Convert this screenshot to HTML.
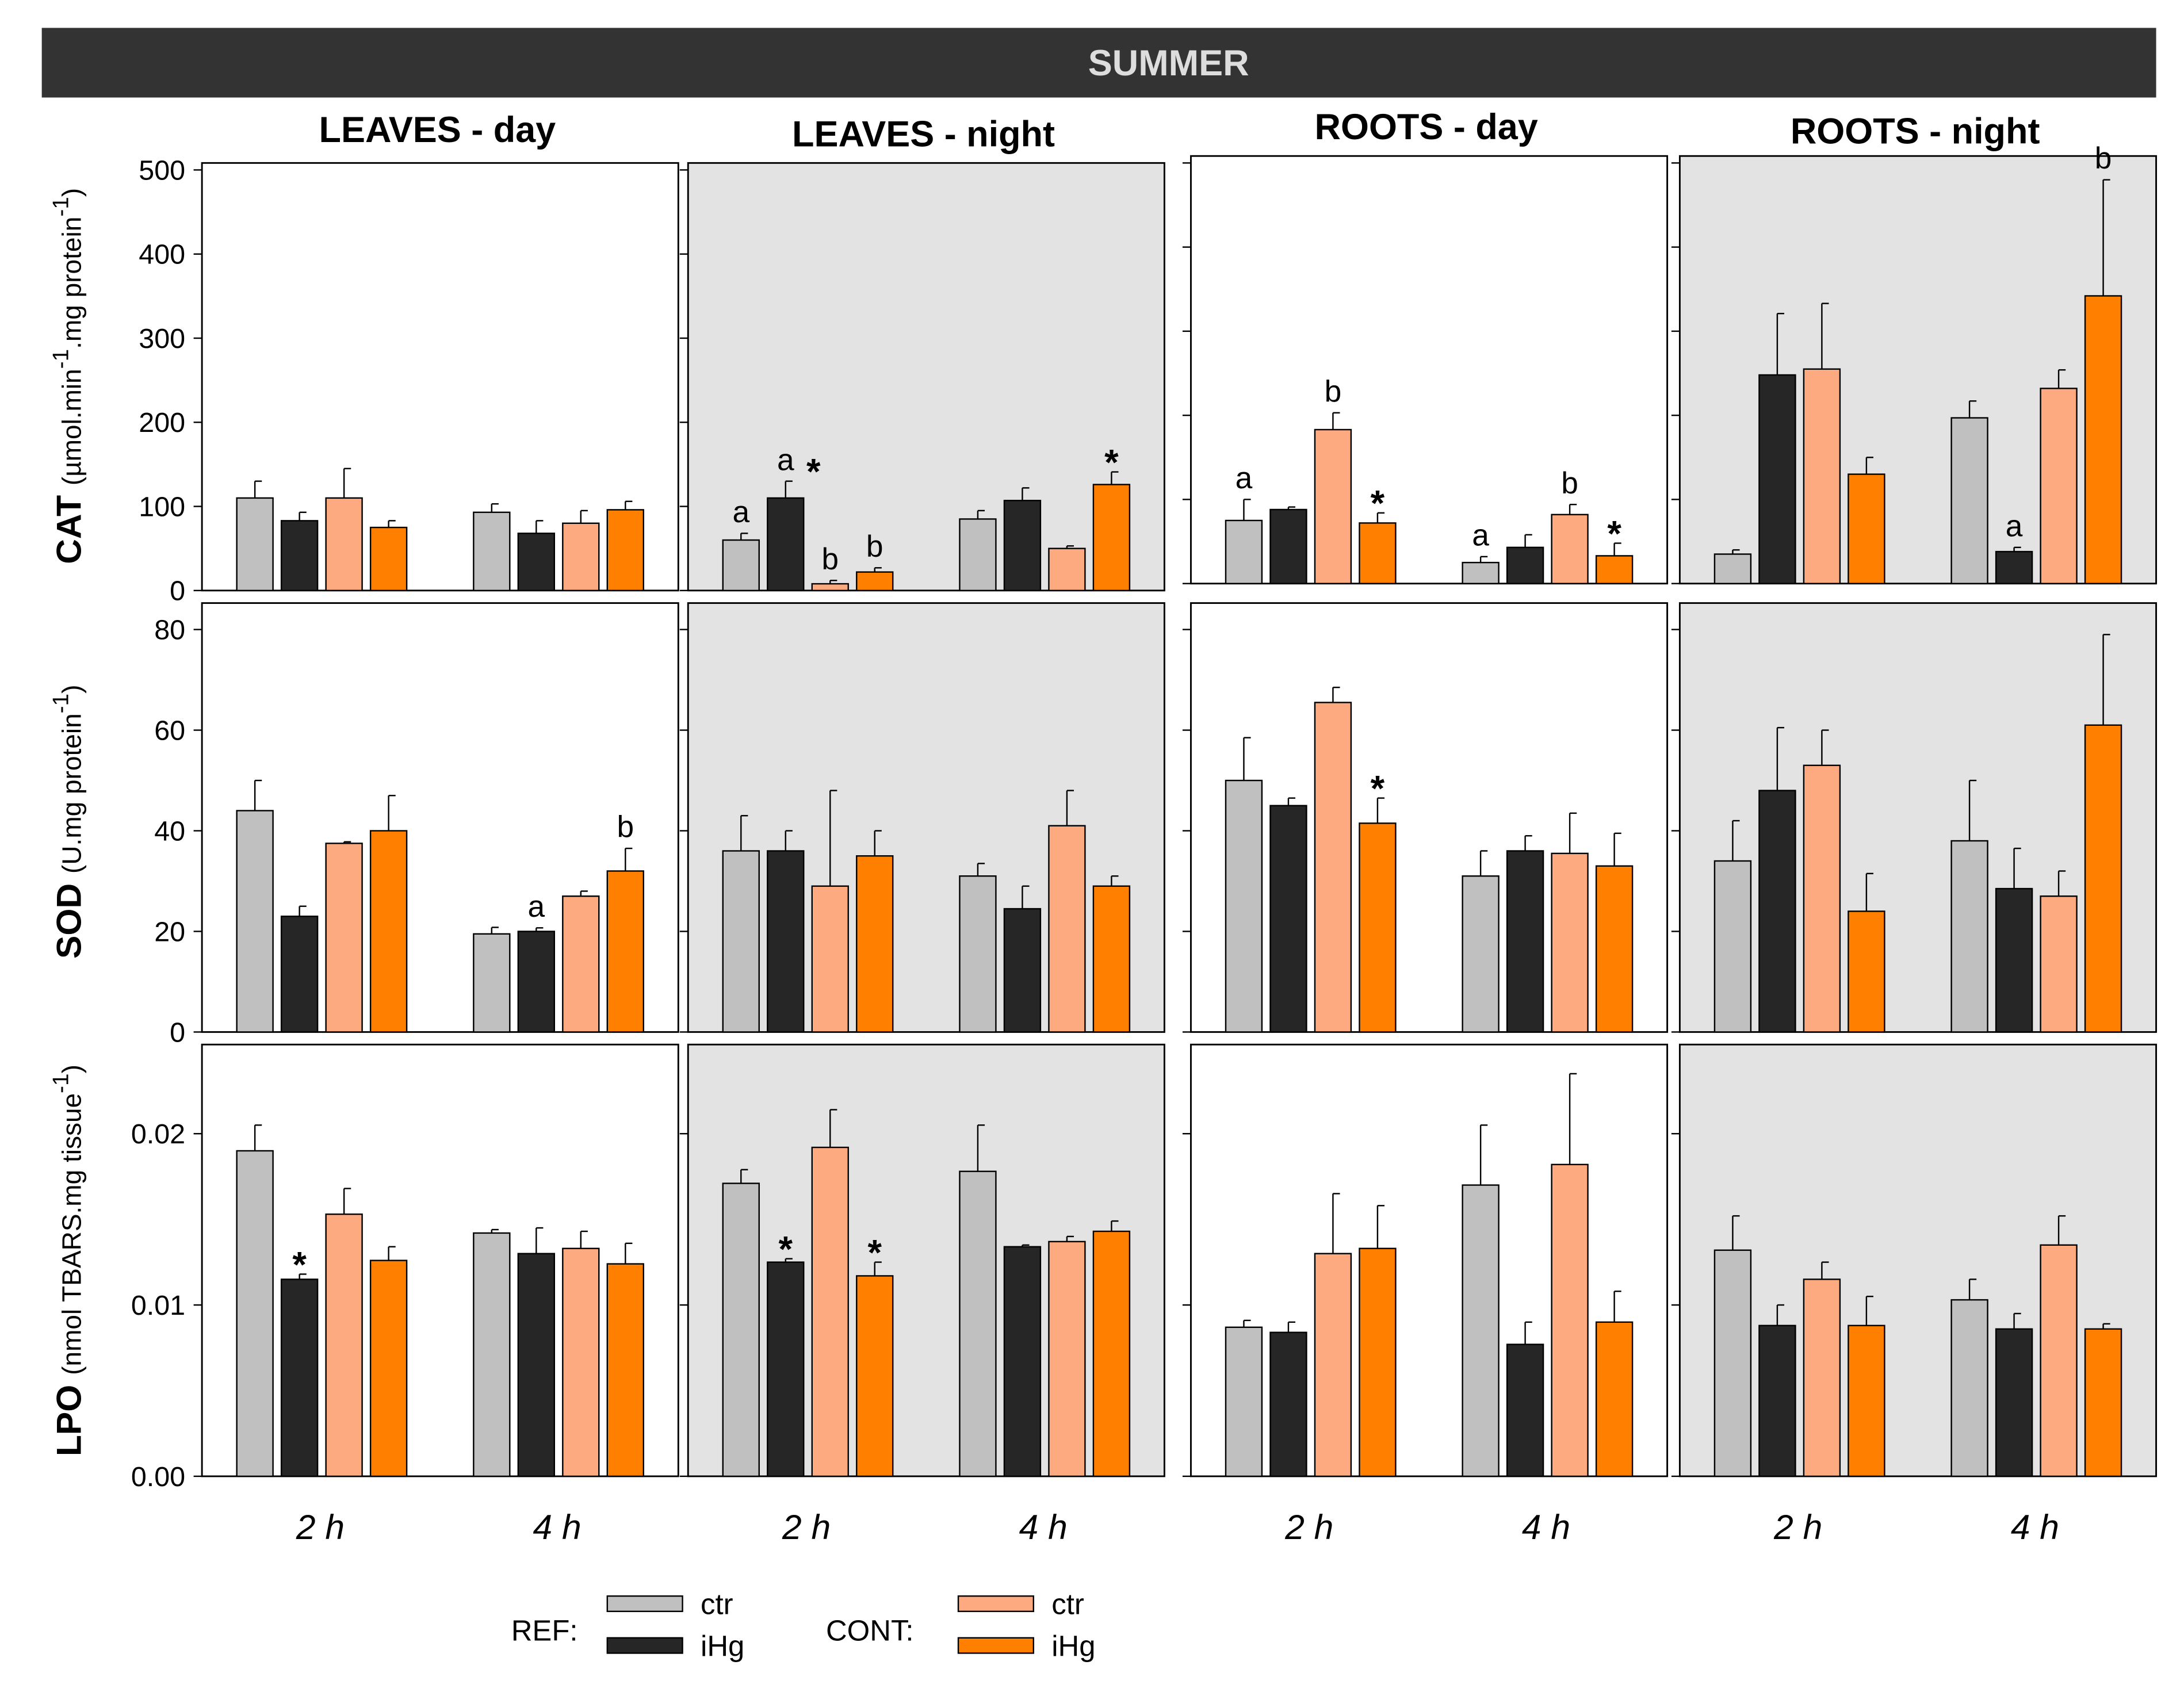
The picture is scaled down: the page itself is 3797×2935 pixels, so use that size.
<!DOCTYPE html>
<html><head><meta charset="utf-8">
<style>
html,body{margin:0;padding:0;background:#fff;}
svg{display:block;font-family:"Liberation Sans",Arial,sans-serif;}
</style></head>
<body>
<svg id="chart" width="3797" height="2935" viewBox="0 0 1568 1212" xmlns="http://www.w3.org/2000/svg">
<rect x="0" y="0" width="1568" height="1212" fill="#fff"/>
<rect x="30" y="20" width="1518" height="50" fill="#333"/>
<text x="839" y="54" text-anchor="middle" font-size="26" font-weight="bold" fill="#ddd">SUMMER</text>
<g id="plots"></g>
<g>
<text x="367" y="1178" font-size="21">REF:</text>
<rect x="436" y="1146" width="54" height="11" fill="#c0c0c0" stroke="#000" stroke-width="1"/>
<rect x="436" y="1176" width="54" height="11" fill="#262626" stroke="#000" stroke-width="1"/>
<text x="503" y="1159" font-size="21">ctr</text>
<text x="503" y="1189" font-size="21">iHg</text>
<text x="593" y="1178" font-size="21">CONT:</text>
<rect x="688" y="1146" width="54" height="11" fill="#fdaa80" stroke="#000" stroke-width="1"/>
<rect x="688" y="1176" width="54" height="11" fill="#ff8000" stroke="#000" stroke-width="1"/>
<text x="755" y="1159" font-size="21">ctr</text>
<text x="755" y="1189" font-size="21">iHg</text>
</g>
</svg>
<script>
// ---- data ----
const panelNames = ["LEAVES - day","LEAVES - night","ROOTS - day","ROOTS - night"];
const groups = ["2 h","4 h"];
const catTicks = [0,100,200,300,400,500];
const sodTicks = [0,20,40,60,80];
const lpoTicks = [0,0.01,0.02];
const lpoTickLabels = ["0.00","0.01","0.02"];
// values per panel: [group][bar] order ctr-REF, iHg-REF, ctr-CONT, iHg-CONT
const catVals = [
 [[110,83,110,75],[93,68,80,96]],
 [[60,110,8,22],[85,107,50,126]],
 [[75,88,183,72],[25,43,82,33]],
 [[35,248,255,130],[197,38,232,342]]];
const catErr = [
 [[20,10,35,8],[10,15,15,10]],
 [[8,20,4,5],[10,15,3,15]],
 [[25,3,20,12],[7,15,12,15]],
 [[5,73,78,20],[20,5,22,138]]];
const sodVals = [
 [[44,23,37.5,40],[19.5,20,27,32]],
 [[36,36,29,35],[31,24.5,41,29]],
 [[50,45,65.5,41.5],[31,36,35.5,33]],
 [[34,48,53,24],[38,28.5,27,61]]];
const sodErr = [
 [[6,2,0.3,7],[1.3,0.7,1,4.5]],
 [[7,4,19,5],[2.5,4.5,7,2]],
 [[8.5,1.5,3,5],[5,3,8,6.5]],
 [[8,12.5,7,7.5],[12,8,5,18]]];
const lpoVals = [
 [[0.0190,0.0115,0.0153,0.0126],[0.0142,0.0130,0.0133,0.0124]],
 [[0.0171,0.0125,0.0192,0.0117],[0.0178,0.0134,0.0137,0.0143]],
 [[0.0087,0.0084,0.0130,0.0133],[0.0170,0.0077,0.0182,0.0090]],
 [[0.0132,0.0088,0.0115,0.0088],[0.0103,0.0086,0.0135,0.0086]]];
const lpoErr = [
 [[0.0015,0.0003,0.0015,0.0008],[0.0002,0.0015,0.0010,0.0012]],
 [[0.0008,0.0002,0.0022,0.0008],[0.0027,0.0001,0.0003,0.0006]],
 [[0.0004,0.0006,0.0035,0.0025],[0.0035,0.0013,0.0053,0.0018]],
 [[0.0020,0.0012,0.0010,0.0017],[0.0012,0.0009,0.0017,0.0003]]];
// annotations: [panel, group, bar, label]
const catNotes = [[1,0,0,"a"],[1,0,1,"a"],[1,0,1,"*"],[1,0,2,"b"],[1,0,3,"b"],[1,1,3,"*"],
 [2,0,0,"a"],[2,0,2,"b"],[2,0,3,"*"],[2,1,0,"a"],[2,1,2,"b"],[2,1,3,"*"],[3,1,1,"a"],[3,1,3,"b"]];
const sodNotes = [[0,1,1,"a"],[0,1,3,"b"],[2,0,3,"*"]];
const lpoNotes = [[0,0,1,"*"],[1,0,1,"*"],[1,0,3,"*"]];

const colors = ["#c0c0c0","#262626","#fdaa80","#ff8000"];
const barNames = ["ref-ctr","ref-ihg","cont-ctr","cont-ihg"];
const colX = [145,494,855,1206];
const PW = 342;
const rows = [
 {key:"cat",vals:catVals,err:catErr,notes:catNotes,ticks:catTicks,labels:catTicks.map(String),max:500,top:[117,117,112,112],bot:[424,424,419,419],span:302},
 {key:"sod",vals:sodVals,err:sodErr,notes:sodNotes,ticks:sodTicks,labels:sodTicks.map(String),max:80,top:[433,433,433,433],bot:[741,741,741,741],span:289},
 {key:"lpo",vals:lpoVals,err:lpoErr,notes:lpoNotes,ticks:lpoTicks,labels:lpoTickLabels,max:0.02,top:[750,750,750,750],bot:[1060,1060,1060,1060],span:246}
];
const NS="http://www.w3.org/2000/svg";
const root=document.getElementById("plots");
function mk(tag,attrs,parent){const e=document.createElementNS(NS,tag);for(const k in attrs)e.setAttribute(k,attrs[k]);(parent||root).appendChild(e);return e;}
function barX(p,g,b){return colX[p]+25+g*170+b*32;}
const BW=26;

rows.forEach((r,ri)=>{
 for(let p=0;p<4;p++){
  const yS=v=>r.bot[p]-v/r.max*r.span;
  const g=mk("g",{});
  
  
  const bg=mk("rect",{x:colX[p],y:r.top[p],width:PW,height:r.bot[p]-r.top[p],fill:(p%2)?"#e3e3e3":"#fff",stroke:"#000","stroke-width":1.2},g);
  
  
  r.ticks.forEach((t,ti)=>{
   const y=yS(t);
   const tk=mk("line",{x1:colX[p]-6,x2:colX[p],y1:y,y2:y,stroke:"#000","stroke-width":1},g);
   
   
   if(p===0){
    const tl=mk("text",{x:colX[p]-12,y:y+7,"text-anchor":"end","font-size":20},g);
    tl.textContent=r.labels[ti];
    
    
   }
  });
  for(let gi=0;gi<2;gi++){
   for(let b=0;b<4;b++){
    const v=r.vals[p][gi][b], e=r.err[p][gi][b];
    const x=barX(p,gi,b);
    const bar=mk("rect",{x:x,y:yS(v),width:BW,height:r.bot[p]-yS(v),fill:colors[b],stroke:"#000","stroke-width":1},g);
    
    
    const el=mk("line",{x1:x+BW/2,x2:x+BW/2,y1:yS(v),y2:yS(v+e),stroke:"#000","stroke-width":1},g);
    
    
    const ec=mk("line",{x1:x+BW/2,x2:x+BW/2+5,y1:yS(v+e),y2:yS(v+e),stroke:"#000","stroke-width":1},g);
    
    
   }
   if(ri===2){
    const xl=mk("text",{x:barX(p,gi,0)+60,y:1105,"text-anchor":"middle","font-size":25,"font-style":"italic"},g);
    xl.textContent=groups[gi];
    
    
   }
  }
 }
 // notes
 const stacked={};
 r.notes.forEach(n=>{
  const [p,gi,b,lab]=n;
  const yS=v=>r.bot[p]-v/r.max*r.span;
  const v=r.vals[p][gi][b]+r.err[p][gi][b];
  let x=barX(p,gi,b)+BW/2;
  const key=p+"-"+gi+"-"+b;
  if(stacked[key]){x+=20;} stacked[key]=1;
  const t=mk("text",{x:x,y:lab==="*"?yS(v)+2:yS(v)-8,"text-anchor":"middle","font-size":lab==="*"?26:22,"font-weight":lab==="*"?"bold":"normal"});
  t.textContent=lab;
  
  
 });
});
// column headers
const hdrY=[102,105,100,103];
panelNames.forEach((n,i)=>{
 const t=mk("text",{x:colX[i]+PW/2-2,y:hdrY[i],"text-anchor":"middle","font-size":26,"font-weight":"bold"});
 t.textContent=n;
 
 
});
// y-axis titles
function ytitle(cx,cy,bold,rest,name){
 const t=mk("text",{transform:"translate("+cx+","+cy+") rotate(-90)","text-anchor":"middle","font-size":19});
 
 
 const s1=mk("tspan",{"font-weight":"bold","font-size":25},t); s1.textContent=bold+" ";
 rest.forEach(part=>{const s=mk("tspan",part[1]?{dy:part[1],"font-size":part[2]||19}:{},t); s.textContent=part[0];});
}
ytitle(58,270,"CAT",[["(µmol.min"],["-1","-9",16],[".mg protein","9"],["-1","-9",16],[")","9"]],"cat-y-axis-title");
ytitle(58,590,"SOD",[["(U.mg protein"],["-1","-9",16],[")","9"]],"sod-y-axis-title");
ytitle(58,905,"LPO",[["(nmol TBARS.mg tissue"],["-1","-9",16],[")","9"]],"lpo-y-axis-title");
</script>
</body></html>
